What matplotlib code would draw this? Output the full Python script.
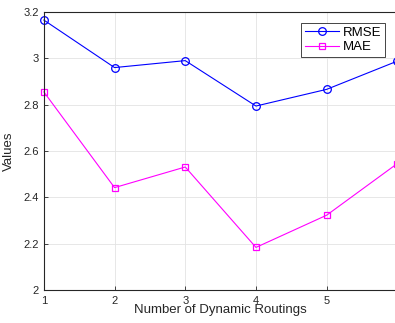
import matplotlib.pyplot as plt

routings = [1, 2, 3, 4, 5, 6]
rmse = [3.165, 2.96, 2.99, 2.794, 2.866, 2.988]
mae = [2.855, 2.442, 2.531, 2.184, 2.323, 2.546]
yticks = [2, 2.2, 2.4, 2.6, 2.8, 3, 3.2]
ytick_labels = ["2", "2.2", "2.4", "2.6", "2.8", "3", "3.2"]

plt.rcParams["font.family"] = ["Liberation Sans", "DejaVu Sans"]

fig = plt.figure(figsize=(3.95, 3.23), dpi=100)
ax = fig.add_axes([0.111, 0.102, 0.895, 0.861])

ax.plot(routings, rmse, color="#0000ff", marker="o", markersize=5.5, mfc="none",
        linewidth=0.8, markeredgewidth=0.9, label="RMSE", clip_on=False)
ax.plot(routings, mae, color="#ff00ff", marker="s", markersize=4.5, mfc="none",
        linewidth=0.8, markeredgewidth=0.9, label="MAE", clip_on=False)

ax.set_xlim(1, 6)
ax.set_ylim(2, 3.2)
ax.set_xticks(routings)
ax.set_yticks(yticks)
ax.set_yticklabels(ytick_labels)
ax.tick_params(direction="in", labelsize=8, colors="#262626", length=3, width=0.6)
ax.tick_params(axis="x", pad=4)
ax.grid(True, color="#e3e3e3", linewidth=0.6)
for s in ax.spines.values():
    s.set_color("#262626")
    s.set_linewidth(0.8)

ax.set_xlabel("Number of Dynamic Routings", fontsize=9.5, color="#262626", labelpad=-1)
ax.set_ylabel("Values", fontsize=9.5, color="#262626", labelpad=6)

leg = ax.legend(loc="upper right", bbox_to_anchor=(0.985, 0.985), fontsize=9.5,
                fancybox=False, edgecolor="#262626", framealpha=1,
                handlelength=2.6, borderpad=0.3, labelspacing=0.15, handletextpad=0.3)
leg.get_frame().set_linewidth(0.6)

fig.savefig("out.png", dpi=100)
